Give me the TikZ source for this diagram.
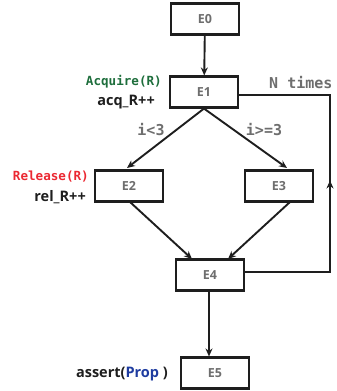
\documentclass[tikz,border=0pt]{standalone}
\usepackage{fontspec}
\setmainfont{Open Sans}
\setmonofont{DejaVu Sans Mono}
\usetikzlibrary{arrows.meta,decorations.markings}
\definecolor{boxgray}{RGB}{110,110,110}
\definecolor{accgreen}{RGB}{30,110,60}
\definecolor{relred}{RGB}{235,40,50}
\definecolor{propblue}{RGB}{30,60,160}
\definecolor{linecol}{RGB}{30,30,30}
\tikzset{
  evbox/.style={draw=linecol, line width=2.1pt, minimum width=68pt, minimum height=31pt, inner sep=0pt,
    font=\fontsize{12.5}{14}\selectfont\bfseries, text=boxgray},
  conn/.style={draw=linecol, line width=1.9pt, -{Stealth[length=8pt,width=7pt]}},
  monolab/.style={font=\fontsize{15}{16}\selectfont\ttfamily\bfseries, text=boxgray, inner sep=0pt},
  codelab/.style={font=\fontsize{12.6}{14}\selectfont\ttfamily\bfseries, inner sep=0pt},
  sanslab/.style={font=\fontsize{14.5}{16}\selectfont\bfseries, text=linecol, inner sep=0pt}
}
\begin{document}
\begin{tikzpicture}[x=1pt,y=-1pt]
\useasboundingbox (0,0) rectangle (337,391);
\node[evbox] (e0) at (205,19) {E0};
\node[evbox] (e1) at (204,92) {E1};
\node[evbox] (e2) at (129,186) {E2};
\node[evbox] (e3) at (279,186) {E3};
\node[evbox] (e4) at (210,275) {E4};
\node[evbox] (e5) at (215,373) {E5};
\coordinate (cr) at (330,186);
\draw[conn] (e0) -- (e1);
\draw[conn] (e1.south) -- (127,168);
\draw[conn] (e1.south) -- (287,168);
\draw[conn] (130,202) -- (192,259);
\draw[conn] (290,202) -- (228,259);
\draw[conn] (e4.south -| 209,0) -- (e5.north -| 209,0);
\draw[draw=linecol, line width=1.9pt,
  decoration={markings, mark=at position 0.5 with {\arrow{Stealth[length=8pt,width=7pt]}}},
  postaction={decorate}] (e4.east |- 0,272) -| (cr) |- (e1.east |- 0,95);
\node[monolab, anchor=west] (nt) at (269,83) {N times};
\node[monolab] (lt) at (151,130) {i<3};
\node[monolab] (ge) at (264,130) {i>=3};
\node[codelab, text=accgreen, anchor=east] (acq) at (162,82) {Acquire(R)};
\node[sanslab, anchor=east] (acqc) at (155,102) {acq\_R++};
\node[codelab, text=relred, anchor=east] (rel) at (89,177) {Release(R)};
\node[sanslab, anchor=east] (relc) at (86,197) {rel\_R++};
\node[sanslab, anchor=east] (as) at (168,374) {assert(\textcolor{propblue}{Prop} )};
\end{tikzpicture}
\end{document}
